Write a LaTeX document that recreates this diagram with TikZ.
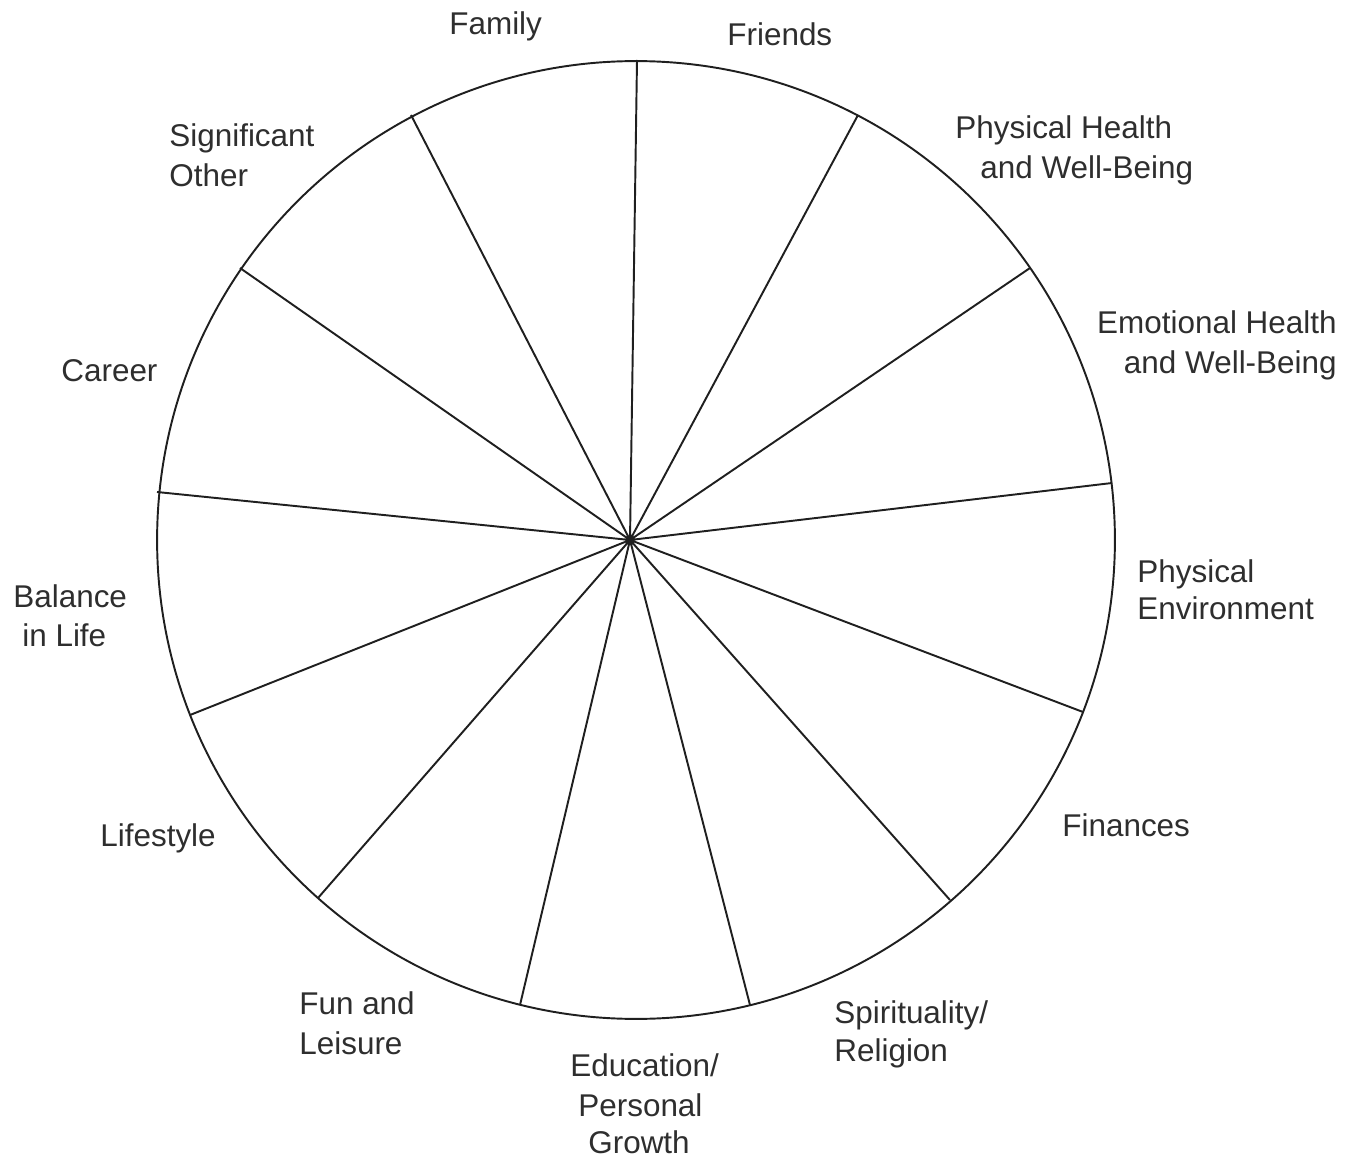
\documentclass[tikz,border=0pt]{standalone}
\usepackage{fontspec}
\setmainfont{Liberation Sans}
\begin{document}
\begin{tikzpicture}[x=0.02cm,y=-0.02cm,
  lbl/.style={inner sep=0pt,text=black!82,font=\fontsize{17.9}{21}\selectfont},
  lw/.style={lbl,anchor=base west},
  le/.style={lbl,anchor=base east},
  wheel/.style={draw=black!88,line width=1.1pt}]
\useasboundingbox (0,0) rectangle (1358,1158);
\coordinate (c) at (630,540);
\draw[wheel] (636,540) circle[radius=9.58cm];
\coordinate (sa) at (637,60);
\coordinate (sb) at (858,115);
\coordinate (sd) at (1030,268);
\coordinate (se) at (1112,483);
\coordinate (sf) at (1083,712);
\coordinate (sg) at (950,900);
\coordinate (sh) at (750,1005);
\coordinate (si) at (520,1005);
\coordinate (sj) at (318,898);
\coordinate (sk) at (190,715);
\coordinate (sl) at (157,492);
\coordinate (sm) at (240,268);
\coordinate (so) at (411,115);
\draw[wheel] (c) -- (sa) (c) -- (sb) (c) -- (sd) (c) -- (se) (c) -- (sf)
  (c) -- (sg) (c) -- (sh) (c) -- (si) (c) -- (sj) (c) -- (sk) (c) -- (sl)
  (c) -- (sm) (c) -- (so);
\node[lw] (family) at (449,35) {Family};
\node[lw] (friends) at (727,46) {Friends};
\node[lw] (ph1) at (955,139) {Physical Health};
\node[lw] (ph2) at (980,179) {and Well-Being};
\node[le] (eh1) at (1337,334) {Emotional Health};
\node[le] (eh2) at (1337,374) {and Well-Being};
\node[lw] (pe1) at (1137,582) {Physical};
\node[lw] (pe2) at (1137,619) {Environment};
\node[lw] (fin) at (1062,836) {Finances};
\node[lw] (sp1) at (834,1023) {Spirituality/};
\node[lw] (sp2) at (834,1061) {Religion};
\node[lw] (ed1) at (570,1076) {Education/};
\node[lw] (ed2) at (578,1116) {Personal};
\node[lw] (ed3) at (588,1153) {Growth};
\node[lw] (fun1) at (299,1014) {Fun and};
\node[lw] (fun2) at (299,1054) {Leisure};
\node[lw] (life) at (100,846) {Lifestyle};
\node[lw] (bal1) at (13,607) {Balance};
\node[lw] (bal2) at (22,646) {in Life};
\node[lw] (car) at (61,382) {Career};
\node[lw] (so1) at (169,147) {Significant};
\node[lw] (so2) at (169,187) {Other};
\end{tikzpicture}
\end{document}
